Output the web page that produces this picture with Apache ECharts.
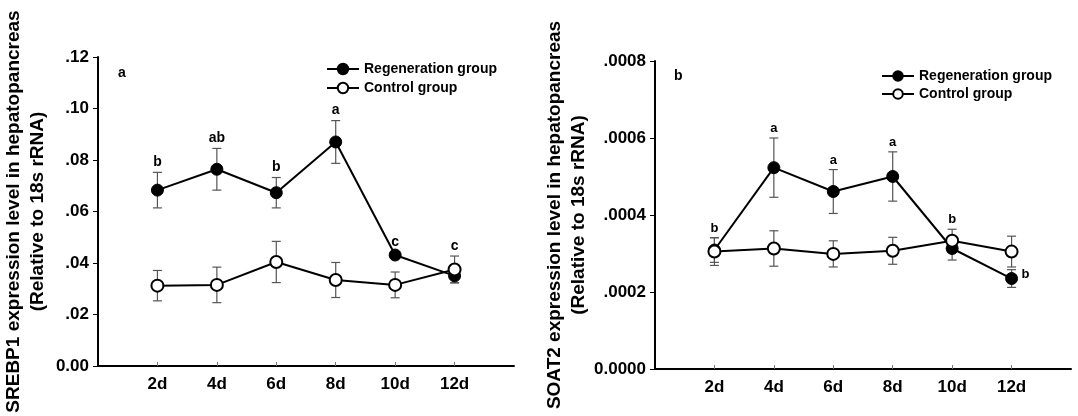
<!DOCTYPE html>
<html>
<head>
<meta charset="utf-8">
<script src="https://cdn.jsdelivr.net/npm/echarts@6/dist/echarts.min.js"></script>
<style>
html,body{margin:0;padding:0;background:#fff;}
#c{width:1078px;height:416px;}
</style>
</head>
<body>
<div id="c"></div>
<script>
// ---- data ----
const days = [2, 4, 6, 8, 10, 12];
const dayLabels = ['2d', '4d', '6d', '8d', '10d', '12d'];

const srebpRegen    = [0.0683, 0.0764, 0.0673, 0.0870, 0.0431, 0.0350];
const srebpRegenErr = [0.0069, 0.0081, 0.0059, 0.0083, 0.0012, 0.0027];
const srebpCtrl     = [0.0312, 0.0315, 0.0404, 0.0334, 0.0315, 0.0375];
const srebpCtrlErr  = [0.0059, 0.0069, 0.0080, 0.0068, 0.0050, 0.0052];
const srebpLetters  = ['b', 'ab', 'b', 'a', 'c', 'c'];

const soatRegen    = [0.000309, 0.000523, 0.000461, 0.000500, 0.000313, 0.000235];
const soatRegenErr = [0.000032, 0.000077, 0.000057, 0.000064, 0.000030, 0.000023];
const soatCtrl     = [0.000305, 0.000313, 0.000299, 0.000307, 0.000333, 0.000305];
const soatCtrlErr  = [0.000036, 0.000046, 0.000034, 0.000035, 0.000030, 0.000040];
const soatLetters  = ['b', 'a', 'a', 'a', 'b', 'b'];

const srebpTickLabels = ['0.00', '.02', '.04', '.06', '.08', '.10', '.12'];
const soatTickLabels  = ['0.0000', '.0002', '.0004', '.0006', '.0008'];

const seriesNames = ['Regeneration group', 'Control group'];
const panelLabels = ['a', 'b'];
const yTitles = [
  'SREBP1 expression level in hepatopancreas\n(Relative to 18s rRNA)',
  'SOAT2 expression level in hepatopancreas\n(Relative to 18s rRNA)'
];

// ---- build ----
const FONT = '"Liberation Sans", Arial, sans-serif';
const chart = echarts.init(document.getElementById('c'), null, {renderer: 'canvas'});

function errData(vals, errs) {
  return days.map((d, i) => [d, vals[i] - errs[i], vals[i] + errs[i]]);
}
function errorSeries(idx, vals, errs) {
  return {
    type: 'custom', xAxisIndex: idx, yAxisIndex: idx, z: 1, silent: true,
    data: errData(vals, errs),
    renderItem: function (params, api) {
      const lo = api.coord([api.value(0), api.value(1)]);
      const hi = api.coord([api.value(0), api.value(2)]);
      const w = 4.5;
      const st = {stroke: '#555', lineWidth: 1.2};
      return {type: 'group', children: [
        {type: 'line', shape: {x1: lo[0], y1: lo[1], x2: hi[0], y2: hi[1]}, style: st},
        {type: 'line', shape: {x1: lo[0] - w, y1: lo[1], x2: lo[0] + w, y2: lo[1]}, style: st},
        {type: 'line', shape: {x1: hi[0] - w, y1: hi[1], x2: hi[0] + w, y2: hi[1]}, style: st}
      ]};
    }
  };
}
function letterSeries(idx, letters, regen, regenErr, ctrl, ctrlErr, sideIndex, fontSize) {
  const data = days.map((d, i) => {
    if (i === sideIndex) return [d, regen[i], 1];
    return [d, Math.max(regen[i] + regenErr[i], ctrl[i] + ctrlErr[i]), 0];
  });
  return {
    type: 'custom', xAxisIndex: idx, yAxisIndex: idx, z: 5, silent: true,
    data: data,
    renderItem: function (params, api) {
      const p = api.coord([api.value(0), api.value(1)]);
      const side = api.value(2) === 1;
      return {
        type: 'text',
        x: side ? p[0] + 10 : p[0],
        y: side ? p[1] - 4 : p[1] - 3,
        style: {
          text: letters[params.dataIndex], fill: '#000',
          font: 'bold ' + fontSize + 'px ' + FONT,
          align: side ? 'left' : 'center', verticalAlign: side ? 'middle' : 'bottom',
          textAlign: side ? 'left' : 'center', textVerticalAlign: side ? 'middle' : 'bottom'
        }
      };
    }
  };
}
function lineSeries(idx, name, vals, filled) {
  return {
    type: 'line', name: name, xAxisIndex: idx, yAxisIndex: idx, z: 3,
    data: days.map((d, i) => [d, vals[i]]),
    symbol: 'circle', symbolSize: 12,
    lineStyle: {color: '#000', width: 2},
    itemStyle: filled ? {color: '#000', borderColor: '#000', borderWidth: 1}
                      : {color: '#fff', borderColor: '#000', borderWidth: 2},
    emphasis: {disabled: true}, animation: false
  };
}
function xAxisCfg(idx) {
  return {
    gridIndex: idx, type: 'value', min: 0, max: 14, interval: 2,
    axisLine: {show: true, onZero: false, lineStyle: {color: '#000', width: 2}},
    axisTick: {show: true, inside: true, length: 4, customValues: days, lineStyle: {color: '#777', width: 1}},
    axisLabel: {
      customValues: days, margin: 10, color: '#000', fontWeight: 'bold', fontSize: 17, fontFamily: FONT,
      formatter: v => dayLabels[days.indexOf(Math.round(v))] || ''
    },
    splitLine: {show: false}
  };
}
function yAxisCfg(idx, max, interval, labels, title, gap) {
  return {
    gridIndex: idx, type: 'value', min: 0, max: max, interval: interval,
    axisLine: {show: true, lineStyle: {color: '#000', width: 2}},
    axisTick: {show: true, inside: false, length: 5, lineStyle: {color: '#000', width: 1}},
    axisLabel: {
      margin: 9, color: '#000', fontWeight: 'bold', fontSize: 17, fontFamily: FONT,
      formatter: v => labels[Math.round(v / interval)]
    },
    splitLine: {show: false},
    name: title, nameLocation: 'middle', nameRotate: 90, nameGap: gap, nameMoveOverlap: false,
    nameTextStyle: {color: '#000', fontWeight: 'bold', fontSize: 19, lineHeight: 24, fontFamily: FONT}
  };
}

const option = {
  backgroundColor: '#fff',
  animation: false,
  grid: [
    {left: 98, top: 57, width: 416, height: 309, containLabel: false, outerBoundsMode: 'none'},
    {left: 655, top: 61, width: 416, height: 308, containLabel: false, outerBoundsMode: 'none'}
  ],
  title: [
    {text: panelLabels[0], left: 118, top: 66, textStyle: {fontSize: 14, fontWeight: 'bold', color: '#000', fontFamily: FONT}, padding: 0},
    {text: panelLabels[1], left: 674, top: 69, textStyle: {fontSize: 14, fontWeight: 'bold', color: '#000', fontFamily: FONT}, padding: 0}
  ],
  legend: [
    {data: seriesNames, left: 326, top: 61, orient: 'vertical', itemWidth: 32, itemHeight: 13, itemGap: 3, padding: 0,
     textStyle: {fontSize: 14, fontWeight: 'bold', color: '#000', fontFamily: FONT, lineHeight: 16}},
    {data: seriesNames, left: 881, top: 68, orient: 'vertical', itemWidth: 32, itemHeight: 12, itemGap: 2, padding: 0,
     textStyle: {fontSize: 14, fontWeight: 'bold', color: '#000', fontFamily: FONT, lineHeight: 16}}
  ],
  xAxis: [xAxisCfg(0), xAxisCfg(1)],
  yAxis: [
    yAxisCfg(0, 0.12, 0.02, srebpTickLabels, yTitles[0], 48),
    yAxisCfg(1, 0.0008, 0.0002, soatTickLabels, yTitles[1], 64)
  ],
  series: [
    errorSeries(0, srebpRegen, srebpRegenErr),
    errorSeries(0, srebpCtrl, srebpCtrlErr),
    lineSeries(0, seriesNames[0], srebpRegen, true),
    lineSeries(0, seriesNames[1], srebpCtrl, false),
    letterSeries(0, srebpLetters, srebpRegen, srebpRegenErr, srebpCtrl, srebpCtrlErr, -1, 14),
    errorSeries(1, soatRegen, soatRegenErr),
    errorSeries(1, soatCtrl, soatCtrlErr),
    lineSeries(1, seriesNames[0], soatRegen, true),
    lineSeries(1, seriesNames[1], soatCtrl, false),
    letterSeries(1, soatLetters, soatRegen, soatRegenErr, soatCtrl, soatCtrlErr, 5, 13)
  ]
};
chart.setOption(option);
</script>
</body>
</html>
